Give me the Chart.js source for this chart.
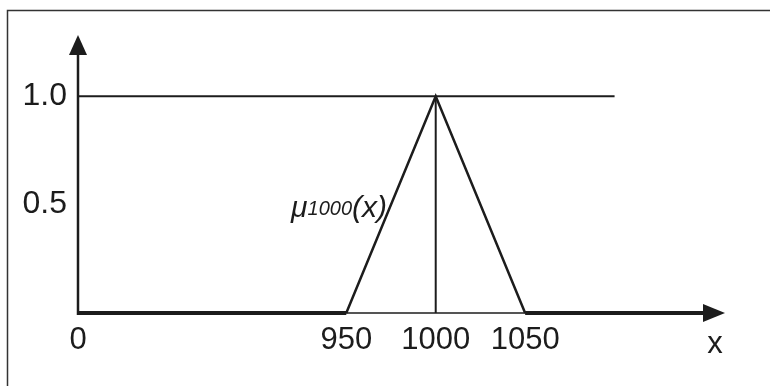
<!DOCTYPE html>
<html>
<head>
<meta charset="utf-8">
<script src="https://cdn.jsdelivr.net/npm/chart.js@4"></script>
<style>
  html, body { margin: 0; padding: 0; background: #fff; }
  #wrap { width: 770px; height: 386px; position: relative; }
</style>
</head>
<body>
<div id="wrap"><canvas id="c" width="770" height="386"></canvas></div>
<script>
// Broken x axis: placeholder categories keep the visual spacing of the original
const xCategories = ['0', 'gap1', 'gap2', '950', '1000', '1050', 'tail1', 'tail2'];
const xTickLabels = ['0', '', '', '950', '1000', '1050', '', ''];
const yTickValues = [0.5, 1.0];
const yTickLabels = ['0.5', '1.0'];

// membership function mu_1000(x)
const muX = ['0', '950', '1000', '1050', 'tail2'];
const muY = [0, 0, 1, 0, 0];

// vertical marker at x = 1000
const peakX = ['1000', '1000'];
const peakY = [0, 1];

// reference level 1.0
const levelX = ['0', 'tail1'];
const levelY = [1, 1];

const yMax = 1.2;
const INK = '#1c1c1c';
const FONT = '"Liberation Sans", Arial, sans-serif';

function pts(xs, ys) { return xs.map((x, i) => ({ x: x, y: ys[i] })); }

const decor = {
  id: 'decor',
  beforeDraw(chart) {
    const ctx = chart.ctx;
    ctx.save();
    ctx.fillStyle = '#fff';
    ctx.fillRect(0, 0, chart.width, chart.height);
    // frame (top and left edges)
    ctx.strokeStyle = '#333';
    ctx.lineWidth = 1.5;
    ctx.beginPath();
    ctx.moveTo(7.5, chart.height);
    ctx.lineTo(7.5, 10.5);
    ctx.lineTo(chart.width, 10.5);
    ctx.stroke();
    ctx.restore();
  },
  beforeDatasetsDraw(chart) {
    const ctx = chart.ctx;
    const xs = chart.scales.x, ys = chart.scales.y;
    const x0 = xs.getPixelForValue(0);
    const xEnd = xs.getPixelForValue(xCategories.length - 1);
    const y0 = ys.getPixelForValue(0);
    const yTop = ys.getPixelForValue(yMax);
    ctx.save();
    ctx.strokeStyle = INK;
    ctx.fillStyle = INK;
    // x axis
    ctx.lineWidth = 1.5;
    ctx.beginPath();
    ctx.moveTo(x0, y0);
    ctx.lineTo(xEnd + 2, y0);
    ctx.stroke();
    ctx.beginPath();
    ctx.moveTo(xEnd - 1, y0 - 9);
    ctx.lineTo(xEnd + 21, y0);
    ctx.lineTo(xEnd - 1, y0 + 9);
    ctx.closePath();
    ctx.fill();
    // y axis
    ctx.lineWidth = 2.5;
    ctx.beginPath();
    ctx.moveTo(x0, y0 + 2);
    ctx.lineTo(x0, yTop);
    ctx.stroke();
    ctx.beginPath();
    ctx.moveTo(x0 - 9, yTop + 2);
    ctx.lineTo(x0, yTop - 18);
    ctx.lineTo(x0 + 9, yTop + 2);
    ctx.closePath();
    ctx.fill();
    // axis name
    ctx.font = '31px ' + FONT;
    ctx.textAlign = 'center';
    ctx.textBaseline = 'alphabetic';
    ctx.fillText('x', xEnd + 11, y0 + 40);
    ctx.restore();
  },
  afterDatasetsDraw(chart) {
    const ctx = chart.ctx;
    const xs = chart.scales.x, ys = chart.scales.y;
    const xa = xs.getPixelForValue(xCategories.indexOf('950'));
    const xb = xs.getPixelForValue(xCategories.indexOf('1000'));
    const yHalf = ys.getPixelForValue(0.5);
    const right = (xa + xb) / 2 - 4;
    const base = yHalf + 12;
    ctx.save();
    ctx.fillStyle = INK;
    ctx.textBaseline = 'alphabetic';
    ctx.textAlign = 'left';
    const fBig = 'italic 30px ' + FONT;
    const fSmall = 'italic 20px ' + FONT;
    ctx.font = fBig; const w1 = ctx.measureText('\u03BC').width;
    ctx.font = fSmall; const w2 = ctx.measureText('1000').width;
    ctx.font = fBig; const w3 = ctx.measureText('(x)').width;
    let x = right - (w1 + w2 + w3);
    ctx.font = fBig; ctx.fillText('\u03BC', x, base); x += w1;
    ctx.font = fSmall; ctx.fillText('1000', x, base - 2); x += w2;
    ctx.font = fBig; ctx.fillText('(x)', x, base);
    ctx.restore();
  }
};

new Chart(document.getElementById('c'), {
  type: 'line',
  data: {
    datasets: [
      {
        data: pts(muX, muY),
        borderColor: INK,
        borderWidth: 2.5,
        pointRadius: 0,
        clip: false,
        segment: {
          borderWidth: c => (c.p0.parsed.y === 0 && c.p1.parsed.y === 0) ? 4 : 2.5
        }
      },
      {
        data: pts(peakX, peakY),
        borderColor: INK,
        borderWidth: 2,
        pointRadius: 0,
        clip: false
      },
      {
        data: pts(levelX, levelY),
        borderColor: INK,
        borderWidth: 2,
        pointRadius: 0,
        clip: false
      }
    ]
  },
  plugins: [decor],
  options: {
    responsive: false,
    animation: false,
    events: [],
    layout: { padding: { left: 0, right: 66, top: 53, bottom: 0 } },
    plugins: { legend: { display: false }, tooltip: { enabled: false } },
    scales: {
      x: {
        type: 'category',
        labels: xCategories,
        offset: false,
        grid: { display: false, drawTicks: false },
        border: { display: false },
        afterFit: s => { s.height = 73; },
        ticks: {
          autoSkip: false,
          maxRotation: 0,
          minRotation: 0,
          padding: 9,
          color: INK,
          font: { family: FONT, size: 31 },
          callback: (v, i) => xTickLabels[i]
        }
      },
      y: {
        type: 'linear',
        min: 0,
        max: yMax,
        grid: { display: false, drawTicks: false },
        border: { display: false },
        afterFit: s => { s.width = 78; },
        afterBuildTicks: s => { s.ticks = yTickValues.map(v => ({ value: v })); },
        ticks: {
          padding: 11,
          color: INK,
          font: { family: FONT, size: 32 },
          callback: v => yTickLabels[yTickValues.indexOf(v)]
        }
      }
    }
  }
});
</script>
</body>
</html>
